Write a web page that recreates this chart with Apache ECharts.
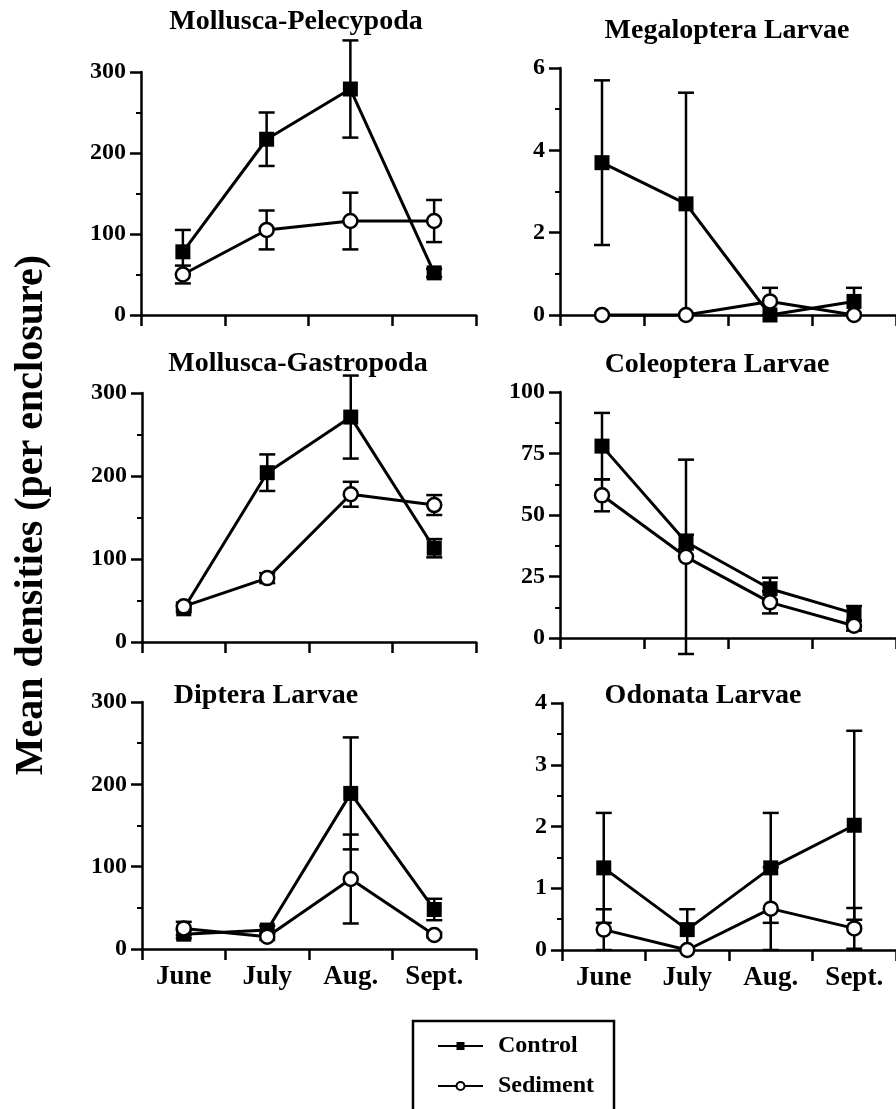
<!DOCTYPE html>
<html>
<head>
<meta charset="utf-8">
<script src="https://cdn.jsdelivr.net/npm/echarts@6/dist/echarts.min.js"></script>
<style>
html,body{margin:0;padding:0;background:#fff;}
#chart{width:896px;height:1109px;}
</style>
</head>
<body>
<div id="chart"></div>
<script>
// ---------- data ----------
const months = ['June', 'July', 'Aug.', 'Sept.'];
const panelTitles = ['Mollusca-Pelecypoda', 'Megaloptera Larvae', 'Mollusca-Gastropoda', 'Coleoptera Larvae', 'Diptera Larvae', 'Odonata Larvae'];
const yMaxes = [300, 6, 300, 100, 300, 4];
const yIntervals = [100, 2, 100, 25, 100, 1];

// Control means / errors
const pelecypodaControl = [78, 217, 279, 52];
const pelecypodaControlErr = [27, 33, 60, 5];
const megalopteraControl = [3.7, 2.7, 0, 0.33];
const megalopteraControlErr = [2.0, 2.7, 0, 0.33];
const gastropodaControl = [40, 204, 271, 113];
const gastropodaControlErr = [4, 22, 50, 11];
const coleopteraControl = [78, 39, 20, 10];
const coleopteraControlErr = [13.5, 3, 4.5, 3];
const dipteraControl = [18, 23, 189, 48];
const dipteraControlErr = [5, 5, 68, 13];
const odonataControl = [1.33, 0.33, 1.33, 2.02];
const odonataControlErr = [0.89, 0.33, 0.89, 1.53];

// Sediment means / errors
const pelecypodaSediment = [50, 105, 116, 116];
const pelecypodaSedimentErr = [11, 24, 35, 26];
const megalopteraSediment = [0, 0, 0.33, 0];
const megalopteraSedimentErr = [0, 0, 0.33, 0];
const gastropodaSediment = [43, 77, 178, 165];
const gastropodaSedimentErr = [4, 6, 15, 12];
const coleopteraSediment = [58, 33, 14.5, 5];
const coleopteraSedimentErr = [6.5, 39.5, 4.5, 2];
const dipteraSediment = [25, 15, 85, 17];
const dipteraSedimentErr = [8, 4, 54, 3];
const odonataSediment = [0.33, 0, 0.67, 0.35];
const odonataSedimentErr = [0.33, 0, 0.67, 0.33];

const controlSets = [pelecypodaControl, megalopteraControl, gastropodaControl, coleopteraControl, dipteraControl, odonataControl];
const controlErrSets = [pelecypodaControlErr, megalopteraControlErr, gastropodaControlErr, coleopteraControlErr, dipteraControlErr, odonataControlErr];
const sedimentSets = [pelecypodaSediment, megalopteraSediment, gastropodaSediment, coleopteraSediment, dipteraSediment, odonataSediment];
const sedimentErrSets = [pelecypodaSedimentErr, megalopteraSedimentErr, gastropodaSedimentErr, coleopteraSedimentErr, dipteraSedimentErr, odonataSedimentErr];

// ---------- layout ----------
const FONT = '"Liberation Serif", "Times New Roman", serif';
const grids = [
  {left: 141, top: 72, width: 335, height: 243},
  {left: 560, top: 68, width: 338, height: 247},
  {left: 142, top: 393, width: 334, height: 249},
  {left: 560, top: 392, width: 338, height: 246},
  {left: 142, top: 702, width: 334, height: 247},
  {left: 562, top: 703, width: 336, height: 247}
];
const titlePos = [[296, 22], [727, 31], [298, 364], [717, 365], [266, 696], [703, 696]];

function errRender(params, api) {
  const i = api.value(0), m = api.value(1), e = api.value(2);
  if (!e) return null;
  const top = api.coord([i, m + e]);
  const bot = api.coord([i, m - e]);
  const hw = 8;
  const st = {stroke: '#000', lineWidth: 2.5};
  return {
    type: 'group',
    children: [
      {type: 'line', shape: {x1: top[0], y1: top[1], x2: bot[0], y2: bot[1]}, style: st},
      {type: 'line', shape: {x1: top[0] - hw, y1: top[1], x2: top[0] + hw, y2: top[1]}, style: st},
      {type: 'line', shape: {x1: bot[0] - hw, y1: bot[1], x2: bot[0] + hw, y2: bot[1]}, style: st}
    ]
  };
}

const xAxes = [], yAxes = [], series = [], graphics = [];
grids.forEach((g, k) => {
  const bottomRow = k >= 4;
  xAxes.push({
    gridIndex: k, type: 'category', data: months, boundaryGap: true,
    axisLine: {lineStyle: {color: '#000', width: 2.5}},
    axisTick: {show: true, length: 11, interval: 0, lineStyle: {color: '#000', width: 2.5}},
    axisLabel: {show: bottomRow, interval: 0, margin: 15, color: '#000', fontFamily: FONT, fontWeight: 'bold', fontSize: 27},
    splitLine: {show: false}
  });
  yAxes.push({
    gridIndex: k, type: 'value', min: 0, max: yMaxes[k], interval: yIntervals[k],
    axisLine: {show: true, lineStyle: {color: '#000', width: 2.5}},
    axisTick: {show: true, length: 11, lineStyle: {color: '#000', width: 2.5}},
    minorTick: {show: true, splitNumber: 2, length: 5, lineStyle: {color: '#000', width: 2}},
    axisLabel: {margin: 15, color: '#000', fontFamily: FONT, fontWeight: 'bold', fontSize: 24},
    splitLine: {show: false}
  });
  const cData = controlSets[k].map((v, i) => [i, v, controlErrSets[k][i]]);
  const sData = sedimentSets[k].map((v, i) => [i, v, sedimentErrSets[k][i]]);
  series.push({
    type: 'custom', name: 'ctrlErr' + k, xAxisIndex: k, yAxisIndex: k, renderItem: errRender,
    data: cData, encode: {x: 0, y: 1}, z: 1, silent: true
  });
  series.push({
    type: 'custom', name: 'sedErr' + k, xAxisIndex: k, yAxisIndex: k, renderItem: errRender,
    data: sData, encode: {x: 0, y: 1}, z: 1, silent: true
  });
  series.push({
    type: 'line', name: 'Control', xAxisIndex: k, yAxisIndex: k, data: controlSets[k],
    symbol: 'rect', symbolSize: 15, showAllSymbol: true, clip: false,
    lineStyle: {color: '#000', width: 3},
    itemStyle: {color: '#000', borderColor: '#000', borderWidth: 0},
    z: 3, animation: false
  });
  series.push({
    type: 'line', name: 'Sediment', xAxisIndex: k, yAxisIndex: k, data: sedimentSets[k],
    symbol: 'circle', symbolSize: 14, showAllSymbol: true, clip: false,
    lineStyle: {color: '#000', width: 3},
    itemStyle: {color: '#fff', borderColor: '#000', borderWidth: 2.5},
    z: 4, animation: false
  });
  graphics.push({
    type: 'text', x: titlePos[k][0], y: titlePos[k][1],
    style: {text: panelTitles[k], fill: '#000', font: 'bold 28px ' + FONT, textAlign: 'center', textVerticalAlign: 'middle'}
  });
});

graphics.push({
  type: 'text', x: 32, y: 515, rotation: Math.PI / 2,
  style: {text: 'Mean densities (per enclosure)', fill: '#000', font: 'bold 40px ' + FONT, textAlign: 'center', textVerticalAlign: 'middle'}
});
graphics.push({
  type: 'rect', shape: {x: 413, y: 1021, width: 201, height: 120},
  style: {fill: 'none', stroke: '#000', lineWidth: 2.5}
});

const chart = echarts.init(document.getElementById('chart'), null, {renderer: 'canvas'});
chart.setOption({
  animation: false,
  backgroundColor: '#fff',
  grid: grids,
  xAxis: xAxes,
  yAxis: yAxes,
  series: series,
  legend: {
    data: ['Control', 'Sediment'], orient: 'vertical', left: 432, top: 1029,
    itemWidth: 45, itemHeight: 10, itemGap: 16, selectedMode: false,
    textStyle: {color: '#000', fontFamily: FONT, fontWeight: 'bold', fontSize: 24, padding: [0, 0, 0, 10]}
  },
  graphic: graphics
});
</script>
</body>
</html>
